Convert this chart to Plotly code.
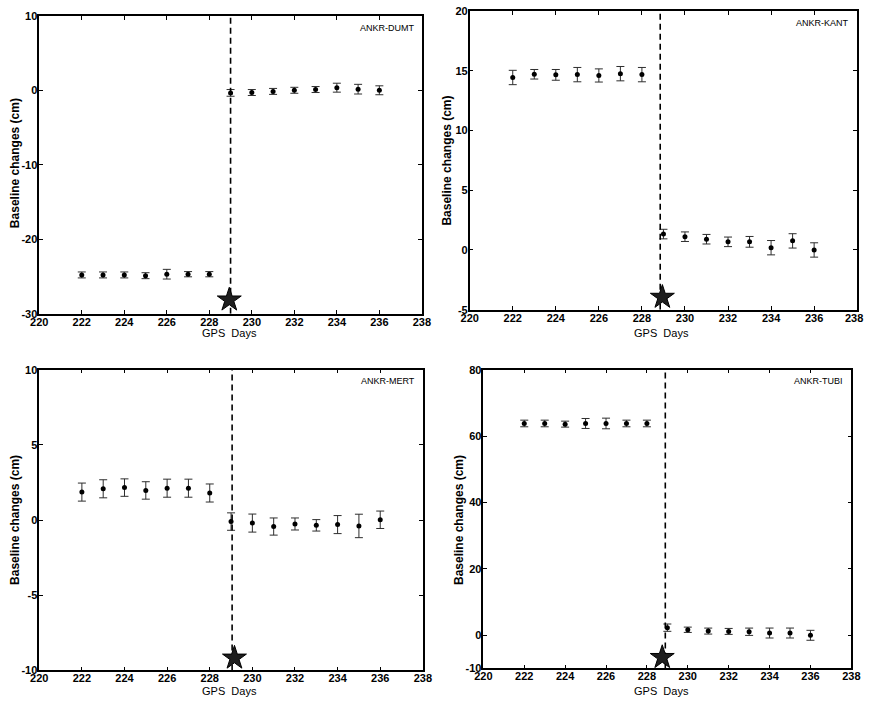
import plotly.graph_objects as go

# ---------------- data ----------------
days = [222, 223, 224, 225, 226, 227, 228, 229, 230, 231, 232, 233, 234, 235, 236]
baselines = ["ANKR-DUMT", "ANKR-KANT", "ANKR-MERT", "ANKR-TUBI"]

dumt_vals = [-24.8, -24.8, -24.8, -24.9, -24.7, -24.7, -24.7, -0.35, -0.3, -0.15, 0.0, 0.1, 0.35, 0.15, 0.0]
dumt_err = [0.4, 0.4, 0.4, 0.4, 0.65, 0.35, 0.35, 0.45, 0.4, 0.4, 0.4, 0.4, 0.6, 0.65, 0.6]

kant_vals = [14.43, 14.7, 14.65, 14.67, 14.6, 14.75, 14.67, 1.33, 1.11, 0.9, 0.68, 0.68, 0.19, 0.76, 0.0]
kant_err = [0.6, 0.4, 0.45, 0.6, 0.55, 0.6, 0.6, 0.4, 0.4, 0.4, 0.4, 0.45, 0.6, 0.6, 0.6]

mert_vals = [1.86, 2.08, 2.16, 1.97, 2.12, 2.12, 1.8, -0.1, -0.2, -0.43, -0.26, -0.35, -0.3, -0.39, 0.02]
mert_err = [0.6, 0.6, 0.58, 0.58, 0.6, 0.6, 0.6, 0.58, 0.6, 0.57, 0.4, 0.38, 0.6, 0.78, 0.58]

tubi_vals = [63.8, 63.8, 63.6, 63.8, 63.8, 63.8, 63.8, 2.3, 1.66, 1.27, 1.17, 1.07, 0.68, 0.68, 0.0]
tubi_err = [1.0, 1.0, 0.9, 1.5, 1.6, 1.0, 1.0, 1.1, 0.8, 0.9, 0.9, 1.1, 1.5, 1.5, 1.5]

event_day = [229.0, 228.85, 229.05, 228.9]           # dashed line position
star_x = [228.94, 228.95, 229.16, 228.75]            # earthquake star
star_y = [-28.15, -3.95, -9.17, -6.65]

y_ranges = [[-30, 10], [-5, 20], [-10, 10], [-10, 80]]
y_ticks = [[-30, -20, -10, 0, 10], [-5, 0, 5, 10, 15, 20], [-10, -5, 0, 5, 10], [-10, 0, 20, 40, 60, 80]]
x_range = [220, 238]
x_ticks = [220, 222, 224, 226, 228, 230, 232, 234, 236, 238]

# ---------------- layout geometry ----------------
W, H = 877, 703
# (left, right, top, bottom) in pixels
boxes = [(31, 423, 10, 313), (472, 869, 5, 309), (31, 424, 370, 676), (486, 863, 370, 674)]
ytitle_pos = [(6, 160), (449, 157), (6, 523), (461, 523)]
xtitle_pos = [(226, 333), (669, 333), (226, 697), (669, 697)]

series_vals = [dumt_vals, kant_vals, mert_vals, tubi_vals]
series_err = [dumt_err, kant_err, mert_err, tubi_err]


def fmt(v):
    return str(v)  # plain hyphen-minus like the original


fig = go.Figure()
layout = dict(width=W, height=H, autosize=False, margin=dict(l=0, r=0, t=0, b=0, pad=0),
              plot_bgcolor="white", paper_bgcolor="white", showlegend=False,
              font=dict(family="Liberation Sans, Arial, sans-serif", color="black"))
annotations = []

for i in range(4):
    xa = "x" if i == 0 else f"x{i+1}"
    ya = "y" if i == 0 else f"y{i+1}"
    l, r, t, b = boxes[i]
    axis_common = dict(showline=True, linecolor="black", linewidth=1.5, mirror="allticks",
                       ticks="inside", ticklen=4, tickcolor="black", tickwidth=1.2,
                       showgrid=False, zeroline=False,
                       tickfont=dict(size=11, weight="bold", color="black"))
    xt_text = [fmt(v) for v in x_ticks]
    if i == 1:
        xt_text[-1] = xt_text[-1] + "\u00a0\u00a0"
    layout["xaxis" if i == 0 else f"xaxis{i+1}"] = dict(
        axis_common, domain=[l / W, r / W], range=x_range,
        tickmode="array", tickvals=x_ticks, ticktext=xt_text,
        ticklabelstandoff=-3, anchor=ya)
    layout["yaxis" if i == 0 else f"yaxis{i+1}"] = dict(
        axis_common, domain=[(H - b) / H, (H - t) / H], range=y_ranges[i],
        tickmode="array", tickvals=y_ticks[i], ticktext=[fmt(v) for v in y_ticks[i]],
        ticklabelstandoff=-2, anchor=xa)

    fig.add_trace(go.Scatter(
        x=days, y=series_vals[i], mode="markers", xaxis=xa, yaxis=ya,
        marker=dict(size=5, color="black"),
        error_y=dict(type="data", array=series_err[i], visible=True,
                     color="#2e2e2e", thickness=1, width=4)))

    # dashed event line
    fig.add_trace(go.Scatter(
        x=[event_day[i], event_day[i]], y=y_ranges[i], mode="lines", xaxis=xa, yaxis=ya,
        line=dict(color="black", width=1.6, dash="6px,4px")))

    # star
    fig.add_trace(go.Scatter(
        x=[star_x[i]], y=[star_y[i]], mode="markers", xaxis=xa, yaxis=ya,
        marker=dict(symbol="star", size=18, color="#1e1e1e",
                    line=dict(color="black", width=1))))

    annotations.append(dict(text=baselines[i], xref="paper", yref="paper",
                            x=(r - 6) / W, y=(H - (t + 12)) / H, xanchor="right", yanchor="middle",
                            showarrow=False, font=dict(size=9, color="black")))
    yx, yy = ytitle_pos[i]
    annotations.append(dict(text="Baseline changes (cm)", xref="paper", yref="paper",
                            x=yx / W, y=(H - yy) / H, xanchor="center", yanchor="middle",
                            textangle=-90, showarrow=False,
                            font=dict(size=12, weight="bold", color="black")))
    xx, xy = xtitle_pos[i]
    annotations.append(dict(text="GPS&nbsp; Days", xref="paper", yref="paper",
                            x=xx / W, y=(H - xy) / H, xanchor="center", yanchor="middle",
                            showarrow=False, font=dict(size=11, color="black")))

layout["annotations"] = annotations
fig.update_layout(**layout)

page_fix = (
    "document.documentElement.style.margin='0';"
    "document.documentElement.style.padding='0';"
    "document.documentElement.style.overflow='hidden';"
    "document.body.style.margin='0';"
    "document.body.style.padding='0';"
    "document.body.style.overflow='hidden';"
)
fig.write_html("out.html", config={"displayModeBar": False, "responsive": False},
               post_script=page_fix)
